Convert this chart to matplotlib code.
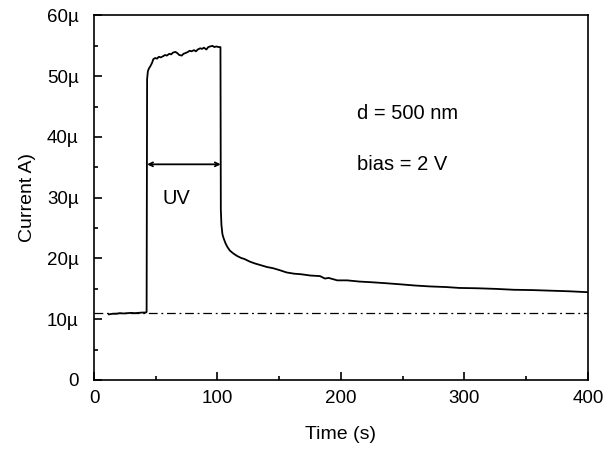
import matplotlib
matplotlib.use("Agg")
import matplotlib.pyplot as plt
from matplotlib.ticker import MultipleLocator

plt.rcParams['font.family'] = ['Liberation Sans', 'DejaVu Sans']

time_s = [12, 15, 18, 21, 24, 27, 30, 33, 36, 39, 42, 42.6, 43.0, 43.6, 44.5, 45.5, 47, 48, 49.5, 51,
          52.5, 54, 56, 57.5, 59, 61, 62.5, 64, 66, 67.5, 69, 71, 72.5, 74, 76, 77.5, 79, 81, 82.5, 84,
          86, 87.5, 89, 91, 92.5, 94, 96, 97.5, 99, 101, 102.4, 102.7, 103.2, 104, 105, 106.5, 108, 110,
          113, 116, 119, 122, 126, 130, 135, 140, 145, 150, 156, 162, 168, 175, 183, 187, 190, 197, 205,
          215, 224, 235, 248, 260, 272, 285, 296, 310, 325, 340, 355, 370, 385, 400]
current_uA = [10.8, 10.9, 10.9, 11.0, 10.95, 11.0, 11.05, 11.0, 11.05, 11.1, 11.1, 11.2, 49.5, 50.8,
              51.3, 51.6, 52.2, 52.8, 53.0, 52.9, 53.2, 53.1, 53.3, 53.5, 53.4, 53.7, 53.6, 53.9, 54.0,
              53.8, 53.5, 53.4, 53.7, 53.8, 54.0, 54.2, 54.1, 54.3, 54.1, 54.4, 54.6, 54.5, 54.7, 54.4,
              54.8, 54.9, 55.0, 54.8, 54.9, 54.8, 54.8, 28.0, 25.5, 24.0, 23.3, 22.5, 21.9, 21.3, 20.8,
              20.4, 20.1, 19.9, 19.5, 19.2, 18.9, 18.6, 18.4, 18.1, 17.7, 17.5, 17.4, 17.2, 17.1, 16.7,
              16.8, 16.4, 16.4, 16.2, 16.1, 15.95, 15.75, 15.55, 15.4, 15.3, 15.15, 15.1, 15.0, 14.85,
              14.8, 14.7, 14.6, 14.45]

baseline_uA = 11.0
uv_on, uv_off = 43.0, 102.6
uv_arrow_level = 35.5

y_ticks = [0, 10, 20, 30, 40, 50, 60]
y_tick_labels = ["0", "10µ", "20µ", "30µ", "40µ", "50µ", "60µ"]
x_ticks = [0, 100, 200, 300, 400]

fig = plt.figure(figsize=(6.16, 4.49), dpi=100)
ax = fig.add_axes([0.1526, 0.1537, 0.8019, 0.8118])

ax.plot(time_s, current_uA, color='black', lw=1.3)
ax.axhline(baseline_uA, color='black', lw=0.9, linestyle=(0, (7, 3, 1.5, 3)))

ax.annotate('', xy=(uv_on, uv_arrow_level), xytext=(uv_off, uv_arrow_level),
            arrowprops=dict(arrowstyle='<->', lw=1.3, color='black', mutation_scale=7,
                            shrinkA=0, shrinkB=0))
ax.text(66.4, 29.8, 'UV', fontsize=14.5, ha='center', va='center')
ax.text(212.6, 43.9, 'd = 500 nm', fontsize=14.5, ha='left', va='center')
ax.text(212.6, 35.4, 'bias = 2 V', fontsize=14.5, ha='left', va='center')

ax.set_xlim(0, 400)
ax.set_ylim(0, 60)
ax.set_xticks(x_ticks)
ax.set_yticks(y_ticks)
ax.set_yticklabels(y_tick_labels)
ax.xaxis.set_minor_locator(MultipleLocator(50))
ax.yaxis.set_minor_locator(MultipleLocator(5))
ax.tick_params(which='both', direction='in', top=False, right=False, labelsize=13.5, width=1.2)
ax.tick_params(which='major', length=6)
ax.tick_params(which='minor', length=3)
ax.tick_params(axis='x', pad=7)
ax.tick_params(axis='y', pad=11)
for s in ax.spines.values():
    s.set_linewidth(1.2)

ax.set_xlabel('Time (s)', fontsize=14, labelpad=14)
ax.set_ylabel('Current A)', fontsize=14, labelpad=8)

fig.savefig('out.png', dpi=100)
